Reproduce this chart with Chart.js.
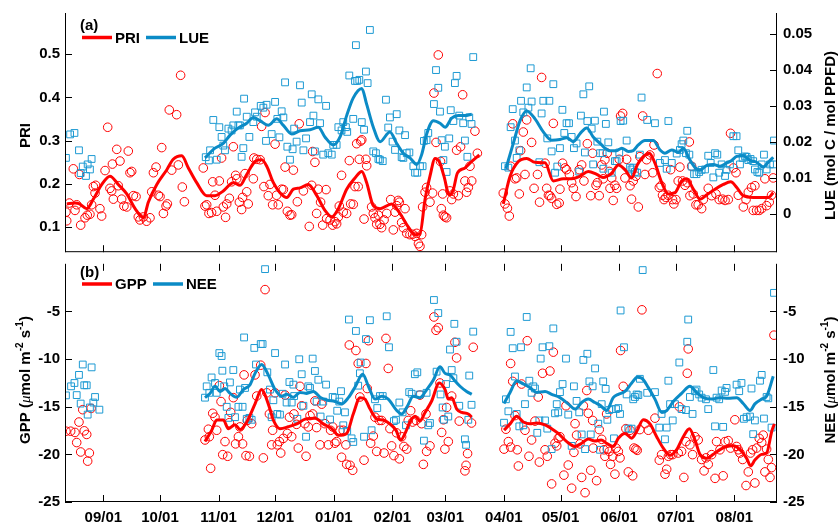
<!DOCTYPE html>
<html>
<head>
<meta charset="utf-8">
<script src="https://cdn.jsdelivr.net/npm/chart.js@4.4.1/dist/chart.umd.min.js"></script>
<style>
  html, body { margin: 0; padding: 0; background: #fff; }
  #wrap { position: relative; width: 840px; height: 527px; }
  canvas { position: absolute; left: 0; }
</style>
</head>
<body>
<div id="wrap">
  <canvas id="chartA" width="840" height="258" style="top:0"></canvas>
  <canvas id="chartB" width="840" height="269" style="top:258px"></canvas>
</div>
<script>
// days counted from 1 September
const monthStarts = [0, 30, 61, 91, 122, 153, 181, 212, 242, 273, 303, 334];
const monthLabels = ['09/01', '10/01', '11/01', '12/01', '01/01', '02/01', '03/01', '04/01', '05/01', '06/01', '07/01', '08/01'];
const dayMin = -20.3, dayMax = 356.6;

const priTicks = [0.1, 0.2, 0.3, 0.4, 0.5];
const lueTicks = [0, 0.01, 0.02, 0.03, 0.04, 0.05];
const fluxTicks = [-25, -20, -15, -10, -5];

// (a) daily PRI
const priPts = [[-19.8,0.135],[-19.4,0.115],[-18.0,0.156],[-15.9,0.235],[-15.0,0.139],[-14.1,0.152],[-12.7,0.222],[-12.0,0.105],[-9.7,0.122],[-8.5,0.128],[-7.1,0.130],[-6.2,0.152],[-5.3,0.194],[-4.4,0.179],[-4.1,0.197],[-1.8,0.143],[-0.9,0.126],[0.9,0.231],[2.3,0.331],[3.5,0.190],[4.4,0.184],[4.8,0.246],[5.3,0.165],[7.1,0.280],[7.9,0.196],[8.8,0.253],[9.7,0.165],[10.9,0.149],[12.4,0.147],[13.2,0.276],[14.1,0.226],[15.0,0.229],[15.9,0.173],[17.3,0.171],[18.5,0.124],[19.4,0.117],[21.2,0.124],[22.9,0.114],[24.7,0.122],[25.6,0.182],[26.5,0.226],[27.9,0.239],[29.1,0.174],[30.0,0.171],[30.9,0.284],[31.8,0.132],[33.2,0.149],[33.9,0.154],[34.9,0.371],[36.2,0.232],[38.8,0.360],[39.7,0.244],[40.9,0.451],[41.8,0.193],[42.9,0.159],
[52.9,0.237],[53.8,0.149],[54.7,0.152],[55.9,0.132],[57.3,0.134],[57.9,0.205],[59.1,0.174],[60.0,0.137],[61.4,0.207],[62.6,0.260],[63.5,0.147],[64.7,0.123],[65.3,0.154],[66.7,0.167],[67.9,0.205],[68.8,0.286],[70.0,0.220],[70.6,0.212],[72.0,0.158],[73.2,0.141],[73.7,0.169],[75.0,0.224],[75.9,0.182],[76.7,0.154],
[79.4,0.212],[79.7,0.260],[81.2,0.257],[83.0,0.256],[83.8,0.333],[85.0,0.194],[85.6,0.365],[87.3,0.173],[88.2,0.199],[89.6,0.152],[90.9,0.292],[91.7,0.174],[92.6,0.152],[94.4,0.188],[95.3,0.187],[96.2,0.239],[97.4,0.137],[98.8,0.128],[99.7,0.129],[100.6,0.232],[102.7,0.159],[103.7,0.339],[105.9,0.184],[109.0,0.102],[110.3,0.197],[110.8,0.275],[112.0,0.250],[112.9,0.132],[113.8,0.188],[115.0,0.158],[116.1,0.105],[117.9,0.187],[118.2,0.120],[120.0,0.117],[121.4,0.105],[122.6,0.113],[123.5,0.108],[124.4,0.124],[124.9,0.149],[126.1,0.220],[127.0,0.135],[128.8,0.132],[130.2,0.254],[130.9,0.154],[132.3,0.153],[133.2,0.194],[134.1,0.293],[134.9,0.194],[135.5,0.257],[136.2,0.299],[136.8,0.302],[138.0,0.119],[139.0,0.257],[139.4,0.242],[142.0,0.147],[142.9,0.132],[143.8,0.122],[144.7,0.107],[145.6,0.128],[146.4,0.107],[147.3,0.099],[148.6,0.117],[150.0,0.132],[152.1,0.164],[153.5,0.094],[154.4,0.135],[155.3,0.150],[156.1,0.162],[156.7,0.158],[157.9,0.111],[158.8,0.099],[159.7,0.143],[160.6,0.086],[162.3,0.083],[163.7,0.084],[165.0,0.079],[165.9,0.086],[166.8,0.062],[167.6,0.056],[168.5,0.083],[169.0,0.147],[170.3,0.181],[171.1,0.192],
[172.9,0.158],[174.3,0.179],[175.0,0.410],[176.1,0.296],[177.3,0.498],[178.5,0.252],[178.9,0.143],[179.6,0.177],[180.0,0.128],[180.8,0.124],[181.7,0.122],[183.5,0.184],[184.4,0.164],[185.3,0.177],[187.0,0.278],[187.9,0.173],[189.1,0.286],[190.2,0.406],[191.4,0.207],[192.3,0.181],[193.2,0.192],[194.1,0.241],[195.0,0.207],[196.7,0.322],[198.0,0.271],
[211.7,0.179],[212.6,0.154],[213.9,0.144],[214.9,0.126],[215.6,0.241],[216.7,0.339],[217.9,0.212],[218.8,0.214],[220.2,0.177],[220.9,0.277],[222.3,0.320],[223.2,0.222],[224.1,0.348],[226.7,0.296],[228.0,0.190],[229.8,0.222],[230.9,0.158],[232.0,0.446],[233.8,0.248],[234.7,0.190],[235.6,0.174],[236.4,0.173],[237.3,0.167],[238.2,0.340],[240.0,0.153],[241.3,0.156],[241.7,0.188],[243.1,0.248],[244.4,0.237],[245.2,0.233],[246.7,0.222],[247.9,0.203],[248.8,0.190],[250.2,0.171],[251.9,0.233],[253.2,0.244],[254.4,0.207],[256.2,0.293],[258.0,0.173],[259.0,0.271],[260.8,0.197],[261.5,0.203],[262.5,0.173],[263.8,0.244],[264.6,0.212],[265.5,0.256],[266.7,0.271],[267.8,0.229],
[268.2,0.190],[269.1,0.214],[269.9,0.162],[270.8,0.197],[271.7,0.190],[273.1,0.257],[273.8,0.357],[274.9,0.363],[276.1,0.214],[277.0,0.257],[278.8,0.196],[279.6,0.165],[280.5,0.207],[281.9,0.218],[283.2,0.147],[284.0,0.263],[285.5,0.357],[286.7,0.222],[287.6,0.256],[289.3,0.267],[290.8,0.226],[291.5,0.290],[293.2,0.455],[294.3,0.192],[295.2,0.196],[296.0,0.174],[296.8,0.164],[297.8,0.169],[299.0,0.174],[300.3,0.233],[301.3,0.164],[302.0,0.154],[303.1,0.164],[304.3,0.207],[305.2,0.239],[306.6,0.207],[307.9,0.197],[309.1,0.203],[310.2,0.297],[310.5,0.173],[311.4,0.241],[312.3,0.177],[313.7,0.152],[314.9,0.152],[316.7,0.143],[317.6,0.164],[320.2,0.190],[322.0,0.173],[324.3,0.177],[326.0,0.164],[327.8,0.165],[329.1,0.162],[330.8,0.164],[332.0,0.317],[333.5,0.237],[334.9,0.226],[336.1,0.174],[338.8,0.147],[340.2,0.164],[341.4,0.181],[343.1,0.192],[344.0,0.139],[344.9,0.196],[345.8,0.139],[347.2,0.139],[348.5,0.143],[350.2,0.212],[351.1,0.150],[352.5,0.158],[353.7,0.174],[354.6,0.214]];

// (a) daily LUE
const lueDots = [[-19.8,0.0156],[-17.6,0.0221],[-15.3,0.0225],[-12.9,0.0177],[-12.0,0.0114],[-10.9,0.0132],[-9.2,0.0106],[-8.3,0.0138],[-7.1,0.0124],[-6.2,0.0153],
[54.2,0.0158],[55.9,0.0149],[56.5,0.0177],[58.2,0.0261],[60.0,0.0151],[61.4,0.0241],[62.6,0.0214],[63.5,0.0190],[64.4,0.0177],[66.2,0.0237],[67.9,0.0232],[68.8,0.0246],[70.6,0.0284],[71.5,0.0246],[72.3,0.0246],[73.2,0.0159],[74.1,0.0183],[74.5,0.0320],[75.9,0.0270],[77.3,0.0214],
[79.4,0.0255],[80.3,0.0282],[81.2,0.0270],[83.3,0.0300],[84.7,0.0295],[86.1,0.0203],[86.4,0.0303],[89.1,0.0222],[90.9,0.0311],[92.1,0.0264],[93.2,0.0213],[94.4,0.0285],[95.3,0.0268],[96.2,0.0365],[97.4,0.0187],[98.8,0.0151],[100.2,0.0180],[101.0,0.0237],[102.3,0.0201],[104.1,0.0357],[105.0,0.0309],[105.9,0.0177],[107.3,0.0210],[109.4,0.0255],[110.3,0.0332],[111.2,0.0273],[112.0,0.0174],[113.8,0.0318],[114.7,0.0252],[116.4,0.0165],[117.9,0.0300],[119.1,0.0169],[120.9,0.0165],[121.7,0.0192],[123.5,0.0192],[124.4,0.0241],[126.1,0.0232],[127.0,0.0255],[128.4,0.0241],[129.1,0.0228],[130.2,0.0384],[132.3,0.0264],[133.2,0.0369],[133.7,0.0468],[134.4,0.0369],[135.5,0.0372],[136.8,0.0255],[138.0,0.0234],[139.0,0.0395],[139.9,0.0363],[141.1,0.0510],[142.9,0.0174],[144.3,0.0169],[145.6,0.0153],[146.4,0.0151],[147.9,0.0147],[149.6,0.0317],[150.8,0.0240],[151.7,0.0268],[153.1,0.0201],[154.4,0.0178],[155.3,0.0277],[156.7,0.0232],[157.9,0.0158],[158.8,0.0156],[159.7,0.0219],[160.6,0.0169],[162.0,0.0171],[164.1,0.0133],[165.0,0.0115],[166.2,0.0115],[167.6,0.0133],[169.0,0.0133],[169.7,0.0203],[171.1,0.0205],
[172.0,0.0225],[175.0,0.0305],[176.1,0.0399],[177.3,0.0350],[178.2,0.0284],[179.1,0.0205],[180.0,0.0150],[180.8,0.0187],[181.7,0.0117],[183.1,0.0210],[183.9,0.0288],[185.3,0.0258],[186.1,0.0363],[187.0,0.0383],[188.4,0.0273],[190.5,0.0252],[191.4,0.0204],[192.7,0.0159],[193.7,0.0268],[194.9,0.0250],[195.8,0.0435],
[212.6,0.0133],[214.4,0.0129],[215.6,0.0241],[216.7,0.0291],[217.9,0.0204],[218.8,0.0156],[220.2,0.0177],[221.1,0.0314],[222.3,0.0282],[224.1,0.0351],[225.0,0.0295],[226.2,0.0404],[226.7,0.0312],[230.8,0.0144],[232.0,0.0279],[232.9,0.0314],[235.0,0.0210],[236.1,0.0314],[237.3,0.0174],[238.2,0.0360],[239.1,0.0115],[240.3,0.0132],[241.7,0.0183],[243.0,0.0289],[244.0,0.0225],[245.2,0.0252],[246.5,0.0252],[247.9,0.0214],[249.1,0.0183],[250.5,0.0196],[251.9,0.0118],[252.8,0.0273],[254.1,0.0332],[254.9,0.0171],[256.2,0.0258],[257.2,0.0354],[258.5,0.0237],[259.3,0.0138],[260.2,0.0259],[261.5,0.0201],[262.9,0.0169],[264.3,0.0169],[265.0,0.0284],[266.0,0.0250],[267.3,0.0199],
[264.7,0.0126],[269.1,0.0115],[270.8,0.0147],[271.7,0.0147],[273.1,0.0171],[273.8,0.0258],[275.2,0.0259],[277.0,0.0204],[278.8,0.0129],[279.6,0.0124],[280.5,0.0129],[281.4,0.0117],[282.6,0.0115],[284.0,0.0165],[284.9,0.0323],[287.9,0.0261],[292.0,0.0252],[294.6,0.0142],[297.3,0.0150],[298.2,0.0126],[299.1,0.0258],[300.9,0.0142],[303.5,0.0168],[305.2,0.0178],[306.1,0.0194],[307.0,0.0204],[308.4,0.0169],[309.1,0.0231],[310.2,0.0165],[311.4,0.0132],[312.7,0.0111],[314.0,0.0111],[315.4,0.0117],[316.7,0.0123],[318.5,0.0124],[320.2,0.0162],[321.5,0.0142],[322.9,0.0102],[323.8,0.0169],[325.0,0.0165],[326.0,0.0115],[327.3,0.0138],[329.1,0.0106],[329.9,0.0123],[331.7,0.0138],[333.5,0.0216],[335.2,0.0216],[336.1,0.0177],[337.0,0.0138],[338.4,0.0156],[339.7,0.0160],[340.5,0.0159],[341.4,0.0150],[342.6,0.0153],[344.0,0.0147],[344.9,0.0124],[346.2,0.0117],[347.2,0.0115],[348.5,0.0138],[349.7,0.0165],[351.1,0.0124],[352.9,0.0138],[354.6,0.0138],[355.0,0.0204]];

// (a) smoothed curves, null = data gap
const priLine = [[-19.4,0.154],[-15,0.156],[-12.6,0.154],[-8.8,0.143],[-5.3,0.165],[-0.8,0.199],[3.5,0.218],[7.9,0.199],[12.4,0.177],[16.8,0.143],[21.2,0.122],[23.8,0.158],[28.3,0.199],[33.6,0.233],[37,0.257],[41.5,0.265],[45,0.237],[49.4,0.203],[54.7,0.173],[59.1,0.173],[63.5,0.184],[68.8,0.203],[72.4,0.197],[75.9,0.222],[80.3,0.252],[83.8,0.256],[86.5,0.241],[90,0.203],[93.5,0.18],[97.1,0.169],[100.6,0.188],[104.1,0.191],[108.5,0.199],[113,0.173],[117.3,0.139],[120.9,0.124],[124.4,0.143],[128.8,0.188],[133.2,0.214],[136.8,0.229],[139.4,0.203],[142.9,0.15],[146.5,0.143],[152.6,0.154],[157,0.132],[161.4,0.101],[165,0.083],[167.6,0.085],[170.3,0.165],[172.9,0.218],[175.6,0.259],[177.8,0.252],[180.3,0.218],[183.1,0.175],[185.3,0.188],[187.4,0.225],[191.4,0.237],[195,0.252],[199,0.267],[205,null],[211.7,0.154],[215.3,0.218],[219.7,0.252],[224.1,0.259],[228.5,0.25],[233.8,0.249],[238.2,0.207],[243.5,0.212],[247.9,0.212],[252.3,0.218],[256.7,0.229],[261.2,0.222],[264.5,0.215],[269.1,0.225],[272.6,0.244],[276.1,0.233],[279.7,0.214],[282.6,0.244],[285.8,0.263],[289,0.271],[292,0.248],[295.6,0.203],[299,0.177],[302.6,0.18],[306.1,0.207],[308.8,0.212],[312.3,0.188],[315.8,0.165],[319.4,0.175],[323.8,0.188],[328.2,0.199],[332.1,0.205],[335.3,0.192],[338.7,0.173],[344,0.169],[348.5,0.169],[352,0.169],[354.6,0.18]];
const lueLine = [[53.8,0.0156],[59.1,0.0183],[63.5,0.0196],[67.1,0.0219],[71.5,0.0239],[75.9,0.0252],[79.4,0.0268],[82.9,0.0259],[87.3,0.0246],[91.8,0.0264],[95.3,0.0246],[99.7,0.0222],[104.1,0.0231],[109.4,0.0234],[113.8,0.0241],[117.3,0.0214],[121.7,0.0192],[125.3,0.0214],[128.8,0.0273],[132.3,0.0322],[136.8,0.0348],[139.4,0.0304],[142.9,0.0241],[146.5,0.0201],[151.7,0.0228],[155.3,0.0196],[158.8,0.0169],[162.3,0.0156],[165.9,0.0138],[168.5,0.0165],[171.2,0.0223],[174.7,0.0259],[178.2,0.0252],[180.9,0.0241],[184.4,0.0266],[187.9,0.0273],[191.4,0.0273],[195,0.0277],[204,null],[213.1,0.0126],[217,0.0196],[220.6,0.0259],[224.1,0.0286],[228.5,0.0264],[232.9,0.0228],[237.3,0.0205],[241.7,0.0207],[245.3,0.0212],[248.8,0.0201],[252.3,0.0223],[255.9,0.0239],[259.3,0.0214],[263.8,0.0192],[265.5,0.0183],[268.1,0.0176],[271.7,0.0176],[274.4,0.0183],[277.9,0.0174],[280.5,0.0176],[283.2,0.0192],[286.7,0.0204],[291.1,0.0204],[294.7,0.0178],[297.3,0.0169],[300.9,0.0178],[304.4,0.0171],[307,0.0183],[310.2,0.0153],[313.2,0.0129],[315.8,0.0122],[319.4,0.0135],[322.9,0.0138],[326.4,0.0133],[330,0.0142],[332.6,0.0149],[335.3,0.016],[338.7,0.0162],[342.3,0.0149],[345.8,0.0144],[349.3,0.0131],[352,0.0144],[354.6,0.0158]];

// (b) daily GPP
const gppPts = [[-19.8,-17.57],[-17.3,-17.57],[-15.0,-17.70],[-14.1,-18.76],[-12.9,-16.61],[-12.0,-19.75],[-10.9,-15.31],[-10.1,-17.53],[-8.8,-17.91],[-8.3,-20.71],[-7.4,-19.86],[-6.5,-15.18],
[53.8,-18.49],[55.6,-17.36],[56.1,-18.15],[56.8,-21.46],[57.9,-15.69],[59.1,-16.10],[60.0,-17.47],[61.4,-12.79],[62.3,-14.46],[63.2,-20.03],[64.4,-18.66],[65.8,-20.20],[66.7,-16.68],[67.4,-15.59],[68.8,-14.05],[70.0,-18.90],[71.5,-18.15],[72.3,-17.12],[73.7,-18.90],[74.5,-11.66],[75.5,-20.13],[76.2,-16.44],[77.3,-20.20],
[78.5,-16.78],[80.3,-11.66],[81.2,-13.88],[83.3,-10.64],[84.7,-20.37],[85.6,-2.71],[86.5,-13.54],[87.9,-15.76],[89.1,-19.00],[89.6,-17.47],[90.9,-13.54],[92.1,-19.00],[93.2,-18.66],[93.9,-19.86],[95.3,-18.32],[96.2,-13.78],[97.4,-17.81],[98.5,-16.10],[99.7,-18.15],[100.9,-15.76],[102.3,-16.85],[103.2,-19.34],[104.1,-12.86],[105.0,-14.90],[106.7,-16.78],[107.3,-20.20],[108.5,-17.12],[109.4,-15.93],[110.8,-15.76],[112.0,-14.39],[112.9,-17.19],[114.7,-19.00],[115.6,-14.73],[117.3,-16.78],[119.1,-19.00],[120.3,-17.47],[121.4,-17.12],[122.6,-18.83],[123.5,-18.66],[125.3,-17.47],[126.1,-20.30],[127.0,-17.47],[128.4,-19.00],[128.8,-21.05],[130.2,-8.52],[130.6,-21.15],[132.0,-21.67],[133.7,-9.10],[134.9,-10.46],[135.8,-13.98],[138.0,-20.61],[139.0,-10.46],[139.7,-13.09],[140.3,-8.07],[141.5,-18.83],[142.9,-18.08],[143.8,-16.10],[144.7,-19.69],[146.1,-16.44],[147.3,-16.44],[148.6,-19.86],[149.6,-7.83],[150.8,-10.98],[151.7,-17.30],[152.6,-19.11],[153.8,-20.13],[155.2,-17.74],[156.7,-20.47],[157.9,-18.15],[159.1,-19.17],[160.6,-19.45],[161.4,-16.44],[162.7,-15.42],[163.7,-16.61],[165.5,-16.44],[167.6,-13.78],[169.4,-21.05],[171.1,-19.69],
[168.5,-16.78],[170.8,-15.76],[172.9,-19.11],[175.0,-5.58],[176.1,-6.98],[177.3,-6.71],[178.2,-12.51],[179.1,-17.70],[180.0,-16.37],[180.8,-19.45],[181.7,-15.08],[182.6,-18.66],[184.4,-13.88],[186.1,-8.24],[187.0,-9.88],[188.4,-16.51],[191.4,-21.73],[192.0,-21.15],[192.8,-19.92],[194.9,-16.71],[195.8,-8.76],
[212.1,-19.45],[213.1,-17.36],[214.4,-18.66],[215.6,-19.24],[215.6,-10.46],[216.7,-12.34],[217.9,-15.93],[219.1,-19.52],[219.7,-21.22],[221.4,-12.62],[223.2,-17.47],[224.4,-8.07],[225.3,-20.20],[226.7,-18.49],[228.5,-16.51],[230.2,-13.98],[230.8,-20.81],[232.5,-11.49],[233.8,-19.52],[235.0,-20.20],[236.4,-11.25],[237.3,-23.10],[238.2,-9.27],[239.1,-18.83],[240.0,-19.11],[240.8,-18.32],[241.7,-18.15],[243.8,-22.18],[244.9,-14.90],[246.1,-21.12],[247.9,-23.55],[249.1,-19.79],[249.7,-16.78],[250.5,-17.98],[252.3,-18.90],[253.2,-22.42],[254.1,-14.90],[255.0,-24.02],[255.9,-13.30],[256.7,-15.69],[258.0,-21.67],[259.0,-16.44],[259.3,-19.34],[261.1,-22.76],[262.5,-17.40],[263.8,-18.42],[265.0,-19.52],[265.5,-20.20],[266.4,-15.76],
[266.8,-19.45],[267.8,-19.69],[268.5,-21.05],[269.6,-20.20],[270.8,-22.08],[271.4,-19.34],[272.6,-19.69],[273.5,-20.37],[273.8,-9.10],[275.2,-12.86],[276.6,-17.30],[277.9,-21.84],[278.8,-17.47],[280.2,-22.25],[280.9,-19.34],[281.9,-19.45],[282.6,-19.58],[284.0,-17.40],[285.1,-4.83],[286.7,-16.78],[288.5,-17.47],[292.0,-16.20],[294.3,-20.61],[295.5,-20.03],[297.3,-22.08],[298.2,-21.56],[299.1,-20.20],[300.3,-20.03],[301.4,-20.03],[304.3,-19.86],[304.9,-15.01],[306.1,-19.69],[307.3,-22.42],[308.4,-18.66],[309.1,-11.49],[309.6,-8.93],[310.5,-19.00],[311.9,-20.03],[313.2,-18.15],[314.9,-18.49],[316.7,-20.54],[318.0,-21.73],[319.0,-20.37],[320.2,-21.05],[322.0,-20.03],[323.8,-22.52],[324.6,-18.66],[326.4,-19.52],[328.1,-22.25],[329.1,-18.66],[330.8,-18.56],[332.0,-19.34],[334.3,-16.37],[335.2,-19.17],[336.1,-19.52],[337.0,-19.86],[338.4,-20.54],[340.2,-23.27],[341.4,-21.84],[342.6,-19.86],[343.7,-19.52],[344.9,-23.00],[345.8,-19.34],[347.2,-18.32],[348.5,-18.76],[349.3,-17.98],[350.2,-21.84],[351.1,-19.45],[352.0,-20.54],[352.9,-22.42],[353.7,-21.39],[355.0,-7.49]];

// (b) daily NEE
const neePts = [[-19.8,-13.81],[-17.1,-12.86],[-15.3,-12.51],[-14.1,-13.78],[-12.9,-11.66],[-12.0,-14.67],[-10.9,-10.57],[-10.1,-12.75],[-8.8,-12.75],[-8.3,-15.83],[-7.1,-15.08],[-6.2,-10.87],[-5.3,-14.56],[-4.4,-13.98],[-2.1,-15.31],
[53.8,-14.05],[54.7,-12.86],[56.1,-13.54],[57.3,-11.93],[59.1,-12.51],[60.0,-13.54],[61.4,-9.37],[62.6,-9.68],[63.0,-11.22],[64.0,-12.86],[65.3,-15.01],[66.2,-16.17],[67.0,-12.45],[68.8,-11.15],[69.7,-16.10],[71.5,-15.01],[72.3,-13.20],[73.7,-15.01],[74.5,-7.73],[75.0,-13.03],[75.9,-16.27],
[77.3,-16.17],[78.5,-16.37],[79.9,-8.83],[80.8,-10.57],[83.3,-8.42],[84.3,-8.42],[85.6,-0.56],[86.8,-11.39],[88.2,-13.20],[89.1,-16.10],[90.0,-14.32],[90.9,-9.37],[92.1,-15.76],[93.5,-15.83],[94.9,-13.64],[96.2,-10.57],[97.0,-14.56],[98.5,-12.41],[99.7,-14.56],[100.6,-12.68],[101.0,-13.88],[102.7,-16.27],[103.7,-10.02],[105.0,-11.59],[105.9,-14.90],[107.3,-18.15],[108.5,-12.86],[109.4,-13.03],[110.8,-9.95],[112.0,-11.25],[112.9,-14.46],[113.8,-12.17],[115.0,-16.03],[116.4,-14.46],[117.9,-12.68],[120.0,-16.34],[121.4,-13.98],[122.6,-14.05],[123.8,-15.42],[124.9,-14.46],[125.8,-13.37],[127.0,-16.95],[127.9,-15.59],[129.1,-17.53],[130.0,-5.85],[131.4,-18.32],[132.3,-18.70],[133.7,-7.05],[134.9,-12.79],[135.8,-11.49],[136.2,-10.36],[138.0,-18.15],[139.0,-7.90],[141.1,-5.92],[142.0,-17.47],[143.8,-14.22],[145.0,-15.14],[146.4,-13.88],[147.9,-13.88],[150.0,-5.51],[151.2,-8.76],[153.8,-16.51],[154.9,-16.37],[156.7,-14.56],[158.4,-15.59],[160.2,-16.95],[161.9,-13.47],[163.2,-13.64],[164.9,-11.59],[166.2,-11.39],[167.6,-13.71],[169.7,-18.56],[171.1,-13.54],
[172.0,-16.95],[172.9,-16.71],[175.0,-3.80],[176.4,-11.32],[177.3,-5.17],[178.5,-13.71],[179.6,-15.08],[180.3,-16.37],[181.4,-12.62],[182.6,-16.03],[183.5,-9.00],[184.4,-11.15],[185.3,-12.00],[185.8,-6.30],[187.0,-8.18],[188.4,-14.90],[191.4,-18.42],[192.0,-19.00],[193.2,-16.37],[193.7,-11.73],[194.9,-14.80],[195.8,-7.12],
[212.1,-16.68],[213.1,-14.22],[214.4,-15.48],[215.6,-7.15],[216.7,-8.86],[217.9,-11.83],[218.8,-15.76],[220.2,-17.06],[221.1,-8.76],[222.3,-16.95],[223.2,-14.73],[224.1,-5.58],[225.5,-12.27],[226.7,-13.54],[227.6,-12.86],[228.5,-13.09],[229.7,-17.74],[230.8,-16.44],[231.5,-9.95],[232.5,-8.76],[233.8,-16.44],[235.0,-17.30],[236.1,-8.65],[237.3,-19.45],[238.2,-6.78],[239.1,-15.69],[240.0,-14.73],[240.8,-15.59],[241.7,-13.47],[243.1,-12.62],[244.9,-9.95],[246.1,-15.83],[247.9,-19.11],[249.1,-12.86],[250.5,-14.39],[251.9,-15.59],[253.2,-17.91],[254.1,-10.09],[255.0,-19.45],[256.2,-9.44],[257.3,-12.34],[258.0,-17.91],[259.0,-12.86],[260.3,-10.98],[262.0,-16.78],[262.9,-19.52],[263.8,-14.73],[264.6,-12.34],[265.9,-13.13],
[266.8,-16.37],[267.8,-15.35],[269.1,-15.25],[270.3,-18.32],[271.4,-15.25],[272.6,-15.14],[273.5,-15.76],[273.8,-4.90],[275.6,-8.76],[277.0,-13.71],[277.9,-17.30],[279.6,-17.30],[280.5,-14.22],[281.4,-13.98],[282.3,-13.71],[283.2,-13.78],[284.0,-12.07],[285.5,-0.66],[287.9,-13.54],[292.0,-13.47],[294.3,-17.19],[295.5,-15.76],[297.3,-18.42],[298.2,-17.19],[299.1,-12.27],[300.0,-14.73],[301.4,-16.44],[302.6,-14.73],[304.9,-10.36],[306.1,-15.25],[308.4,-15.35],[309.1,-8.18],[309.6,-5.85],[310.5,-13.98],[311.9,-15.76],[313.2,-13.37],[314.0,-13.20],[315.4,-13.71],[316.7,-14.05],[319.0,-14.22],[320.2,-15.25],[322.9,-11.15],[323.8,-17.06],[324.6,-14.05],[326.0,-14.22],[327.3,-13.30],[328.1,-17.12],[329.1,-13.44],[329.9,-13.03],[335.2,-12.68],[336.6,-13.37],[337.8,-12.51],[339.1,-16.27],[340.5,-16.10],[342.3,-16.03],[343.1,-13.09],[344.0,-17.88],[344.9,-16.44],[347.6,-12.27],[348.5,-11.66],[349.7,-16.24],[351.1,-13.98],[352.0,-14.12],[353.7,-17.19],[355.0,-3.05]];

// (b) smoothed curves
const gppLine = [[53.8,-18.66],[57.4,-17.46],[60,-16.4],[63.5,-16.4],[66.2,-17.3],[69.7,-16.9],[72.4,-17.4],[75.9,-16.6],[80.3,-14.7],[83.8,-13.2],[87.3,-14.7],[90,-16.4],[93.5,-17.3],[97.9,-17.1],[102.4,-16.8],[106.8,-16.3],[112.1,-16.2],[116.4,-16.8],[120.9,-17.3],[124.4,-18],[128.8,-17.8],[132.3,-15.76],[135.9,-14.05],[138.5,-14.2],[141.2,-15.25],[144.7,-16.27],[148.2,-16.4],[151.7,-16.8],[154.9,-17.46],[157.4,-18.5],[159.7,-17.8],[162.3,-16.6],[165,-16.0],[167.6,-16.5],[170.3,-15.6],[173.8,-14.4],[177.8,-12.5],[180.9,-13.2],[182.6,-14.2],[184.4,-14.05],[187.1,-15.25],[189.7,-15.6],[193.2,-15.76],[195,-16.1],[204,null],[212.1,-17.46],[215.3,-16.8],[218.8,-16.0],[222.3,-16.6],[225.9,-16.8],[229.4,-16.7],[233.8,-16.9],[237.3,-17.3],[240.8,-17.8],[245.3,-18.66],[249.7,-19.17],[253.2,-18.83],[256.7,-18.4],[260.2,-18.6],[263.5,-18.5],[266.4,-18.83],[269.9,-19.17],[272.6,-18.3],[276.1,-17.8],[279.7,-18.3],[282.3,-17.6],[285.8,-16.37],[289.4,-16.8],[292.9,-18.15],[296.4,-19.35],[300,-20.1],[303.5,-19.5],[307,-18.15],[310.2,-17.3],[313.2,-18.5],[315.8,-20.0],[319.4,-20.4],[322.9,-20],[326.4,-19.5],[330,-19.17],[333.4,-19.1],[337,-19.5],[340.5,-20.4],[342.6,-21.2],[344.9,-20.6],[348.5,-20],[351.1,-19.86],[353.8,-17.6],[355.2,-16.8]];
const neeLine = [[53.8,-14.05],[56.5,-13.6],[59.1,-12.85],[61.8,-13.4],[64.4,-13.1],[67.1,-13.6],[70.6,-14.0],[74.1,-13.2],[77.6,-12.7],[80.3,-11.5],[83.8,-10.56],[87.3,-11.66],[90.9,-13.2],[94.4,-13.9],[97.1,-13.7],[100.6,-14],[104.1,-13.5],[107.7,-13.6],[111.2,-13.4],[114.7,-14],[118.2,-14.3],[122.6,-14.45],[126.2,-14.7],[129.7,-14.05],[133.2,-12.95],[137.3,-11.6],[140.3,-12.85],[143.8,-14.2],[147.4,-13.9],[150.8,-14.2],[155.3,-15.4],[157.9,-15.76],[160.6,-15.07],[164.1,-13.9],[167.6,-14.05],[171.2,-13.2],[174.7,-12.2],[178.2,-10.8],[180.9,-11.5],[183.5,-11.66],[186.2,-12.3],[188.8,-12.85],[192.3,-13.4],[195,-13.7],[204,null],[212.1,-14.66],[215.3,-13.5],[218.8,-12.3],[222.3,-12.6],[225.9,-13],[229.4,-13.5],[233.8,-13.4],[237.3,-13.7],[241.7,-14.05],[246.1,-14.7],[249.7,-15.25],[253.2,-14.56],[256.7,-14.2],[260.2,-14.56],[263.3,-14.9],[266.4,-15.4],[269.9,-14.05],[272.6,-13.7],[276.1,-13.4],[279.7,-12.5],[282.6,-11.9],[285,-12],[288.5,-13],[292,-14.2],[295.6,-15.6],[298.2,-15.4],[301.7,-14.45],[306.1,-13.6],[310.5,-12.85],[314,-13.5],[317.6,-14.05],[322,-14.2],[326.4,-14.05],[330.8,-14.1],[335.3,-14.05],[338.7,-14.66],[342.3,-15.4],[344.9,-14.7],[348.5,-14.2],[351.1,-13.9],[354.6,-11.8]];

const RED = '#ff0000';
const BLUE = '#0b8bc6';
const BLUE_PT = '#1d9ad3';
const BOLD = 'bold 15px "Liberation Sans", Arial, sans-serif';

Chart.defaults.font.family = '"Liberation Sans", Arial, sans-serif';
Chart.defaults.font.size = 15;
Chart.defaults.font.weight = 'bold';
Chart.defaults.color = '#000';

function toXY(pts) {
    return pts.map(p => ({ x: p[0], y: p[1] }));
}

// rotated axis title made of several runs (for superscripts)
function drawRuns(ctx, runs, cx, cy) {
    ctx.save();
    ctx.translate(cx, cy);
    ctx.rotate(-Math.PI / 2);
    ctx.fillStyle = '#000';
    ctx.textBaseline = 'alphabetic';
    ctx.textAlign = 'left';
    let total = 0;
    runs.forEach(r => { ctx.font = r.font || BOLD; total += ctx.measureText(r.t).width; });
    let x = -total / 2;
    runs.forEach(r => {
        ctx.font = r.font || BOLD;
        ctx.fillText(r.t, x, r.sup ? -1.5 : 5.5);
        x += ctx.measureText(r.t).width;
    });
    ctx.restore();
}

function framePlugin(o) {
    return {
        id: 'frame',
        afterDatasetsDraw(chart) {
            const ctx = chart.ctx, a = chart.chartArea, s = chart.scales;
            const L = a.left + 0.5, R = a.right - 0.5, T = a.top + 0.5, B = a.bottom - 0.5;
            const TL = 7;
            ctx.save();
            ctx.strokeStyle = '#000';
            ctx.lineWidth = 1;
            ctx.beginPath();
            ctx.moveTo(L, a.top); ctx.lineTo(L, a.bottom);
            ctx.moveTo(R, a.top); ctx.lineTo(R, a.bottom);
            if (o.bottomLine) { ctx.moveTo(a.left, B); ctx.lineTo(a.right, B); }
            // month ticks
            monthStarts.forEach(v => {
                const px = Math.round(s.x.getPixelForValue(v)) + 0.5;
                ctx.moveTo(px, a.bottom); ctx.lineTo(px, a.bottom - TL);
                if (o.topTicks) { ctx.moveTo(px, a.top); ctx.lineTo(px, a.top + TL); }
            });
            s.yL.ticks.forEach(t => {
                const py = Math.round(s.yL.getPixelForValue(t.value)) + 0.5;
                ctx.moveTo(a.left, py); ctx.lineTo(a.left + TL, py);
            });
            s.yR.ticks.forEach(t => {
                const py = Math.round(s.yR.getPixelForValue(t.value)) + 0.5;
                ctx.moveTo(a.right, py); ctx.lineTo(a.right - TL, py);
            });
            ctx.stroke();
            ctx.restore();
        },
        afterDraw(chart) {
            const ctx = chart.ctx;
            ctx.save();
            ctx.fillStyle = '#000';
            ctx.font = BOLD;
            ctx.textAlign = 'left';
            ctx.textBaseline = 'alphabetic';
            ctx.fillText(o.tag, 80, o.tagY);
            ctx.textBaseline = 'middle';
            o.items.forEach(it => {
                ctx.strokeStyle = it.color;
                ctx.lineWidth = 3.5;
                ctx.beginPath();
                ctx.moveTo(it.x0, o.legY);
                ctx.lineTo(it.x0 + 30, o.legY);
                ctx.stroke();
                ctx.fillText(it.label, it.x0 + 33, o.legY + 1);
            });
            ctx.restore();
            drawRuns(ctx, o.leftTitle, 24, o.titleY);
            drawRuns(ctx, o.rightTitle, 829, o.titleY);
        }
    };
}

function xScale(show) {
    return {
        type: 'linear', min: dayMin, max: dayMax, display: show,
        grid: { display: false, drawTicks: false }, border: { display: false },
        ticks: { padding: 7, autoSkip: false, maxRotation: 0, callback: (v, i) => monthLabels[i] },
        afterBuildTicks: sc => { sc.ticks = monthStarts.map(v => ({ value: v })); },
        afterFit: sc => { sc.height = show ? 25 : 0; sc.paddingLeft = 0; sc.paddingRight = 0; }
    };
}

function yScale(pos, min, max, ticks, width, pad) {
    return {
        type: 'linear', position: pos, min: min, max: max,
        grid: { display: false, drawTicks: false }, border: { display: false },
        ticks: { padding: pad, callback: v => String(v) },
        afterBuildTicks: sc => { sc.ticks = ticks.map(v => ({ value: v })); },
        afterFit: sc => { sc.width = width; sc.paddingTop = 0; sc.paddingBottom = 0; }
    };
}

function lineSet(label, pts, color, axis, order) {
    return {
        type: 'line', label: label, data: toXY(pts), yAxisID: axis,
        borderColor: color, borderWidth: 3, pointRadius: 0, showLine: true,
        cubicInterpolationMode: 'monotone', spanGaps: false, fill: false, order: order
    };
}

function dotSet(label, pts, color, axis, style, r, order) {
    return {
        label: label, data: toXY(pts), yAxisID: axis,
        pointStyle: style, pointRadius: r, pointBorderWidth: 1,
        borderColor: color, backgroundColor: 'rgba(0,0,0,0)', order: order
    };
}

const common = {
    responsive: false, animation: false, events: [],
    plugins: { legend: { display: false }, tooltip: { enabled: false } }
};

// Panel (a): PRI and LUE
new Chart(document.getElementById('chartA'), {
    type: 'scatter',
    data: {
        datasets: [
            lineSet('PRI', priLine, RED, 'yL', 0),
            lineSet('LUE', lueLine, BLUE, 'yR', 1),
            dotSet('PRI daily', priPts, RED, 'yL', 'circle', 4.3, 3),
            dotSet('LUE daily', lueDots, BLUE_PT, 'yR', 'rect', 4.8, 2)
        ]
    },
    options: Object.assign({}, common, {
        layout: { padding: { top: 13, left: 0, right: 0, bottom: 0 } },
        scales: {
            x: xScale(false),
            yL: yScale('left', 0.0425, 0.5948, priTicks, 65, 5),
            yR: yScale('right', -0.0105, 0.0557, lueTicks, 63, 6)
        }
    }),
    plugins: [framePlugin({
        tag: '(a)', tagY: 30, legY: 37.5, bottomLine: true, topTicks: false,
        items: [{ label: 'PRI', color: RED, x0: 82 }, { label: 'LUE', color: BLUE, x0: 146 }],
        titleY: 135.5,
        leftTitle: [{ t: 'PRI' }],
        rightTitle: [{ t: 'LUE (mol C / mol PPFD)' }]
    })]
});

// Panel (b): GPP and NEE
const supFont = 'bold 10px "Liberation Sans", Arial, sans-serif';
const muFont = 'italic 15px "Liberation Serif", serif';
function fluxTitle(name) {
    return [{ t: name + ' (' }, { t: 'μ', font: muFont }, { t: 'mol m' }, { t: '-2', font: supFont, sup: true },
            { t: ' s' }, { t: '-1', font: supFont, sup: true }, { t: ')' }];
}

new Chart(document.getElementById('chartB'), {
    type: 'scatter',
    data: {
        datasets: [
            lineSet('GPP', gppLine, RED, 'yL', 0),
            lineSet('NEE', neeLine, BLUE, 'yR', 1),
            dotSet('GPP daily', gppPts, RED, 'yL', 'circle', 4.3, 3),
            dotSet('NEE daily', neePts, BLUE_PT, 'yR', 'rect', 4.8, 2)
        ]
    },
    options: Object.assign({}, common, {
        layout: { padding: 0 },
        scales: {
            x: xScale(true),
            yL: yScale('left', -25, 0, fluxTicks, 65, 5),
            yR: yScale('right', -25, 0, fluxTicks, 63, 6)
        }
    }),
    plugins: [framePlugin({
        tag: '(b)', tagY: 19, legY: 26, bottomLine: true, topTicks: true,
        items: [{ label: 'GPP', color: RED, x0: 82 }, { label: 'NEE', color: BLUE, x0: 153 }],
        titleY: 122,
        leftTitle: fluxTitle('GPP'),
        rightTitle: fluxTitle('NEE')
    })]
});
</script>
</body>
</html>
